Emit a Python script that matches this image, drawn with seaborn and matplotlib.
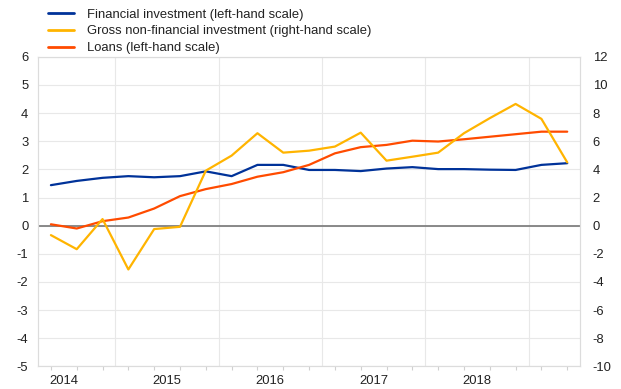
import pandas as pd
import numpy as np
import matplotlib
matplotlib.use("Agg")
import matplotlib.pyplot as plt
import seaborn as sns

# quarterly observations, 2014 Q2 - 2019 Q2
quarters = ["2014Q2", "2014Q3", "2014Q4",
            "2015Q1", "2015Q2", "2015Q3", "2015Q4",
            "2016Q1", "2016Q2", "2016Q3", "2016Q4",
            "2017Q1", "2017Q2", "2017Q3", "2017Q4",
            "2018Q1", "2018Q2", "2018Q3", "2018Q4",
            "2019Q1", "2019Q2"]

financial = [1.44, 1.59, 1.70, 1.76, 1.72, 1.76, 1.93, 1.76, 2.16, 2.16, 1.98,
             1.98, 1.94, 2.03, 2.08, 2.01, 2.01, 1.99, 1.98, 2.16, 2.22]
loans = [0.05, -0.10, 0.16, 0.29, 0.61, 1.05, 1.30, 1.48, 1.74, 1.90, 2.16,
         2.57, 2.79, 2.87, 3.02, 2.99, 3.07, 3.16, 3.25, 3.34, 3.34]
gross_nonfin = [-0.67, -1.67, 0.47, -3.11, -0.24, -0.08, 3.91, 4.98, 6.57, 5.19, 5.33,
                5.62, 6.61, 4.62, 4.90, 5.19, 6.57, 7.64, 8.65, 7.59, 4.50]

year_labels = ["2014", "2015", "2016", "2017", "2018"]

names = ["Financial investment (left-hand scale)",
         "Gross non-financial investment (right-hand scale)",
         "Loans (left-hand scale)"]
colors = {names[0]: "#003299", names[1]: "#ffb400", names[2]: "#ff4b00"}

pos = np.arange(len(quarters))
df_left = pd.DataFrame({"pos": np.concatenate([pos, pos]),
                        "value": financial + loans,
                        "series": [names[0]] * len(pos) + [names[2]] * len(pos)})
df_right = pd.DataFrame({"pos": pos, "value": gross_nonfin, "series": names[1]})

sns.set_theme(style="white")
plt.rcParams["font.family"] = ["Liberation Sans", "DejaVu Sans"]
plt.rcParams["font.size"] = 9.4
plt.rcParams["axes.unicode_minus"] = False

fig = plt.figure(figsize=(6.21, 3.89), dpi=100)
ax = fig.add_axes([0.0612, 0.058, 0.873, 0.796])
ax2 = ax.twinx()

sns.lineplot(data=df_left, x="pos", y="value", hue="series", palette=colors,
             linewidth=1.6, ax=ax, legend=False)
sns.lineplot(data=df_right, x="pos", y="value", hue="series", palette=colors,
             linewidth=1.6, ax=ax2, legend=False)

gridc = "#e8e8e8"
ax.set_xlim(-0.5, 20.5)
ax.set_ylim(-5, 6)
ax.set_yticks(range(-5, 7))
ax2.set_ylim(-10, 12)
ax2.set_yticks(range(-10, 13, 2))
ax.grid(axis="y", color=gridc, lw=0.8)
ax.set_axisbelow(True)
for b in [2.5, 6.5, 10.5, 14.5, 18.5]:
    ax.axvline(b, color=gridc, lw=0.8, zorder=0)
ax.axhline(0, color="#808080", lw=1.3, zorder=1)

ax.set_xticks([0.5 + 4 * k for k in range(len(year_labels))])
ax.set_xticklabels(year_labels)
ax.set_xticks(pos, minor=True)
ax.tick_params(axis="x", which="major", length=0, pad=6, labelsize=9.4, labelcolor="#222222")
ax.tick_params(axis="x", which="minor", length=3, color="#d0d0d0", width=0.8, bottom=True)
ax.tick_params(axis="y", length=0, pad=7, labelsize=9.4, labelcolor="#222222")
ax2.tick_params(axis="y", length=0, pad=9, labelsize=9.4, labelcolor="#222222")
for a in (ax, ax2):
    a.set_xlabel("")
    a.set_ylabel("")
    for s in a.spines.values():
        s.set_color("#dcdcdc")
        s.set_linewidth(0.8)

handles = [plt.Line2D([], [], color=colors[n], lw=2) for n in names]
fig.legend(handles, names, loc="upper left", bbox_to_anchor=(0.063, 1.0),
           frameon=False, fontsize=9.4, handlelength=2.0, handletextpad=1.0,
           labelspacing=0.36, borderaxespad=0.25, labelcolor="#222222")

fig.savefig("out.png", dpi=100)
